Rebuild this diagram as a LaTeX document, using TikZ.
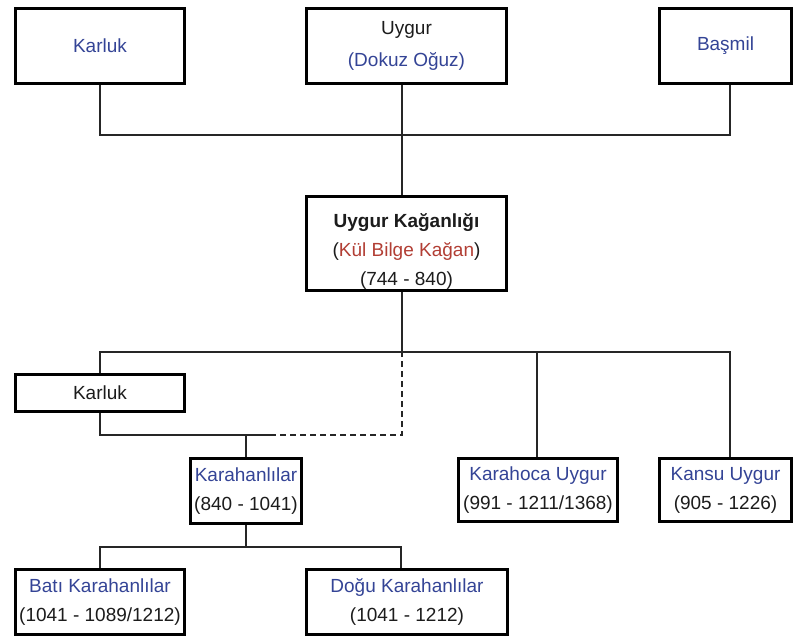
\documentclass[tikz,border=0pt]{standalone}
\usepackage{fontspec}
\setmainfont{Liberation Sans}
\definecolor{nameblue}{RGB}{52,68,150}
\definecolor{namered}{RGB}{178,62,52}
\definecolor{txt}{RGB}{28,28,28}
\begin{document}
\begin{tikzpicture}[x=1pt,y=-1pt,
  box/.style={draw=black, line width=3pt, rectangle, inner sep=0pt, align=center,
    text=txt, font=\fontsize{19}{29}\selectfont},
  link/.style={draw=black!85, line width=1.3pt},
  dlink/.style={draw=black!85, line width=1.3pt, dash pattern=on 6pt off 4pt}]
\useasboundingbox[fill=white] (0,0) rectangle (795,642);
% top row
\node[box, minimum width=169pt, minimum height=75pt] (k1) at (100,46) {\textcolor{nameblue}{Karluk}};
\node[box, minimum width=200pt, minimum height=75pt] (uy) at (406.5,46) {Uygur\\[3pt]\textcolor{nameblue}{(Dokuz Oğuz)}};
\node[box, minimum width=132pt, minimum height=75pt] (bs) at (725.5,46) {\textcolor{nameblue}{Başmil}};
% center
\node[box, minimum width=200pt, minimum height=94pt] (uk) at (406.5,243.5) {\rule{0pt}{29pt}\textbf{Uygur Kağanlığı}\\(\textcolor{namered}{Kül Bilge Kağan})\\(744 - 840)};
% middle row
\node[box, minimum width=169pt, minimum height=37pt] (k2) at (100,393) {Karluk};
\node[box, minimum width=111pt, minimum height=65pt] (kh) at (246,491) {\textcolor{nameblue}{Karahanlılar}\\(840 - 1041)};
\node[box, minimum width=159pt, minimum height=63pt] (kc) at (538,490) {\textcolor{nameblue}{Karahoca Uygur}\\(991 - 1211/1368)};
\node[box, minimum width=132pt, minimum height=63pt] (ks) at (725.5,490) {\textcolor{nameblue}{Kansu Uygur}\\(905 - 1226)};
% bottom row
\node[box, minimum width=169pt, minimum height=65pt] (bk) at (100,602) {\textcolor{nameblue}{Batı Karahanlılar}\\(1041 - 1089/1212)};
\node[box, minimum width=201pt, minimum height=65pt] (dk) at (407,602) {\textcolor{nameblue}{Doğu Karahanlılar}\\(1041 - 1212)};
% junction coordinates
\coordinate (j1) at (402,135);
\coordinate (j2) at (402,352);
\coordinate (j3) at (402,435);
\coordinate (j4) at (270,435);
\coordinate (j5) at (246,547);
% top connectors
\draw[link] (k1.south) |- (j1);
\draw[link] (j1) -| ([xshift=4.5pt]bs.south);
\draw[link] ([xshift=-4.5pt]uy.south) -- ([xshift=-4.5pt]uk.north);
% middle connectors
\draw[link] ([xshift=-4.5pt]uk.south) -- (j2);
\draw[link] (k2.north) |- (j2);
\draw[link] (j2) -| ([xshift=4.5pt]ks.north);
\draw[link] (j2) -| ([xshift=-1pt]kc.north);
\draw[link] (k2.south) |- (j4);
\draw[dlink] (j4) -- (j3) -- (j2);
\draw[link] (kh.north) -- (kh.north |- j4);
% bottom connectors
\draw[link] (kh.south) -- (j5);
\draw[link] (bk.north) |- (j5);
\draw[link] (j5) -| ([xshift=-6pt]dk.north);
\end{tikzpicture}
\end{document}
